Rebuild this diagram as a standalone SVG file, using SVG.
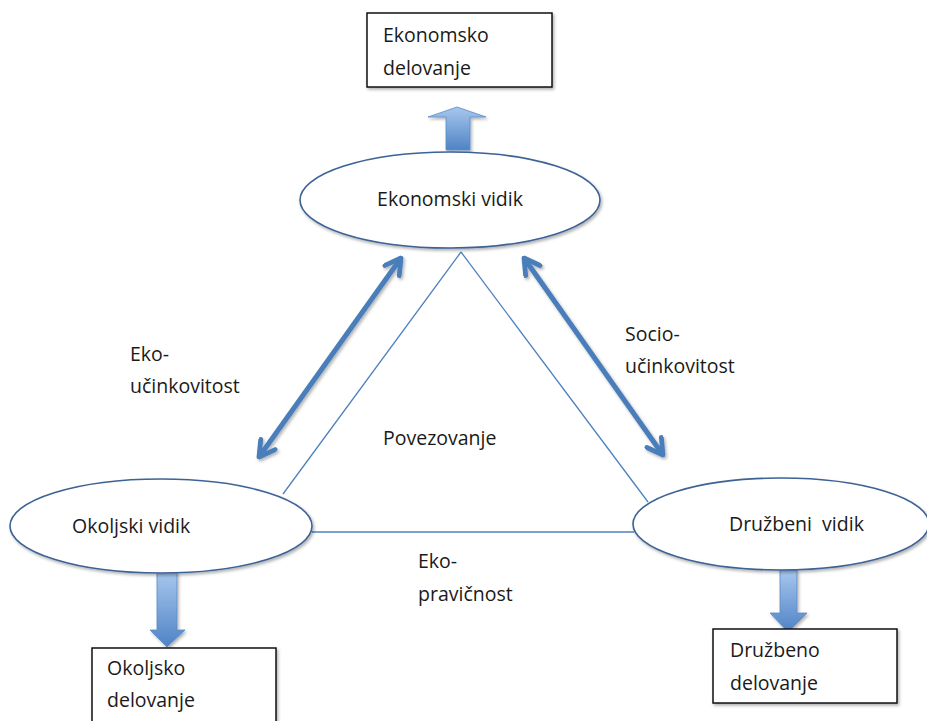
<svg xmlns="http://www.w3.org/2000/svg" width="927" height="721" viewBox="0 0 927 721">
<style>
text{font-family:"Open Sans","Liberation Sans",sans-serif;font-size:19.5px;fill:#1a1a1a}
.ell{fill:#fff;stroke:#3d6296;stroke-width:1.6}
.box{fill:#fff;stroke:#111;stroke-width:1.5}
.thin{stroke:#4f81bd;stroke-width:1.3;fill:none}
.dbl{stroke:#4a7ebb;stroke-width:5;fill:none;marker-start:url(#ah);marker-end:url(#ah)}
.blk{fill:url(#g);stroke:#5b8bc6;stroke-width:0.8}
</style>
<defs>
<marker id="ah" viewBox="0 0 10 10" refX="9" refY="5" markerWidth="4.4" markerHeight="4.4" orient="auto-start-reverse" markerUnits="strokeWidth">
<path d="M2,1 L9,5 L2,9" fill="none" stroke="#4a7ebb" stroke-width="2.2" stroke-linecap="round" stroke-linejoin="round"/>
</marker>
<linearGradient id="g" x1="0" y1="0" x2="0" y2="1">
<stop offset="0" stop-color="#a7c7ee"/>
<stop offset="1" stop-color="#4f83c6"/>
</linearGradient>
<filter id="sh" x="-10%" y="-10%" width="130%" height="130%">
<feDropShadow dx="1.5" dy="2" stdDeviation="1.5" flood-color="#000" flood-opacity="0.3"/>
</filter>
</defs>

<g id="connectors">
<path class="thin" d="M461,252 L283,494"/>
<path class="thin" d="M461,252 L648,502"/>
<path class="thin" d="M312,532 L634,532"/>
<path class="dbl" filter="url(#sh)" d="M259,457 L401,258"/>
<path class="dbl" filter="url(#sh)" d="M524,258 L663,455"/>
<path class="dbl" filter="url(#sh)" d="M340,515 L603,515"/>
<path id="arrow-top" class="blk" filter="url(#sh)" d="M446,150 L446,117 L428,117 L457,107 L486,117 L470,117 L470,150 Z"/>
<path id="arrow-left" class="blk" filter="url(#sh)" d="M157,572 L157,630 L150,630 L167,647 L185,630 L177,630 L177,572 Z"/>
<path id="arrow-right" class="blk" filter="url(#sh)" d="M780,570 L780,613 L770,613 L788,632 L807,613 L797,613 L797,570 Z"/>
</g>

<g id="ekonomsko-delovanje">
<rect class="box" filter="url(#sh)" x="367" y="13" width="185" height="74"/>
<text x="383" y="42">Ekonomsko</text>
<text x="383" y="75">delovanje</text>
</g>

<g id="ekonomski-vidik">
<ellipse class="ell" filter="url(#sh)" cx="450" cy="200" rx="150" ry="48"/>
<text x="450" y="206" text-anchor="middle">Ekonomski vidik</text>
</g>

<g id="okoljski-vidik">
<ellipse class="ell" filter="url(#sh)" cx="161" cy="526" rx="151" ry="47"/>
<text x="72" y="533">Okoljski vidik</text>
</g>

<g id="druzbeni-vidik">
<ellipse class="ell" filter="url(#sh)" cx="781" cy="524" rx="148" ry="46"/>
<text x="729" y="531" xml:space="preserve">Družbeni  vidik</text>
</g>

<g id="okoljsko-delovanje">
<rect class="box" filter="url(#sh)" x="92" y="648" width="184" height="80"/>
<text x="107" y="675">Okoljsko</text>
<text x="107" y="707">delovanje</text>
</g>

<g id="druzbeno-delovanje">
<rect class="box" filter="url(#sh)" x="713" y="629" width="184" height="74"/>
<text x="730" y="657">Družbeno</text>
<text x="730" y="690">delovanje</text>
</g>

<g id="labels">
<text x="130" y="361">Eko-</text>
<text x="130" y="393">učinkovitost</text>
<text x="383" y="445">Povezovanje</text>
<text x="625" y="341">Socio-</text>
<text x="625" y="373">učinkovitost</text>
<text x="418" y="568">Eko-</text>
<text x="418" y="601">pravičnost</text>
</g>
</svg>
